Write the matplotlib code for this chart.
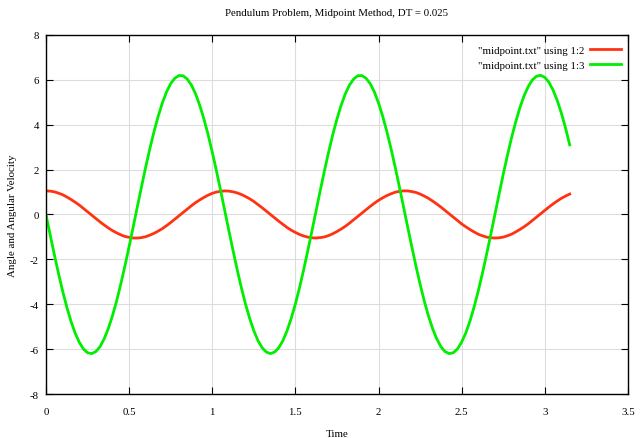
import numpy as np
import matplotlib
matplotlib.use("Agg")
import matplotlib.pyplot as plt

plt.rcParams['font.family'] = ['Liberation Serif', 'DejaVu Serif']
plt.rcParams['axes.unicode_minus'] = False

# time column, DT = 0.025
time = [round(0.025 * i, 3) for i in range(127)]

# column 2: angle
angle = [1.05, 1.04, 1.01, 0.95, 0.88, 0.78, 0.67, 0.55, 0.42, 0.27,
         0.12, -0.03, -0.18, -0.33, -0.47, -0.60, -0.72, -0.82, -0.91, -0.98,
         -1.02, -1.05, -1.05, -1.03, -0.99, -0.92, -0.84, -0.74, -0.63, -0.50,
         -0.36, -0.21, -0.06, 0.09, 0.24, 0.39, 0.53, 0.65, 0.76, 0.86,
         0.94, 1.00, 1.03, 1.05, 1.04, 1.01, 0.96, 0.89, 0.80, 0.70,
         0.58, 0.44, 0.30, 0.15, 0.00, -0.15, -0.30, -0.44, -0.58, -0.70,
         -0.80, -0.89, -0.96, -1.01, -1.04, -1.05, -1.03, -1.00, -0.94, -0.86,
         -0.76, -0.65, -0.53, -0.39, -0.24, -0.09, 0.06, 0.21, 0.36, 0.50,
         0.63, 0.74, 0.84, 0.92, 0.99, 1.03, 1.05, 1.05, 1.02, 0.98,
         0.91, 0.82, 0.72, 0.60, 0.47, 0.33, 0.18, 0.03, -0.12, -0.27,
         -0.42, -0.55, -0.67, -0.78, -0.88, -0.95, -1.01, -1.04, -1.05, -1.04,
         -1.01, -0.95, -0.88, -0.78, -0.67, -0.55, -0.42, -0.27, -0.12, 0.03,
         0.18, 0.33, 0.47, 0.60, 0.72, 0.82, 0.91]

# column 3: angular velocity
velocity = [0.00, -0.90, -1.78, -2.62, -3.41, -4.12, -4.75, -5.28, -5.69, -5.99,
            -6.16, -6.20, -6.11, -5.89, -5.54, -5.08, -4.51, -3.85, -3.10, -2.29,
            -1.43, -0.54, 0.36, 1.25, 2.12, 2.94, 3.70, 4.38, 4.97, 5.46,
            5.83, 6.07, 6.19, 6.18, 6.03, 5.76, 5.37, 4.86, 4.25, 3.56,
            2.78, 1.95, 1.08, 0.18, -0.72, -1.60, -2.46, -3.26, -3.99, -4.63,
            -5.18, -5.62, -5.94, -6.13, -6.20, -6.13, -5.94, -5.62, -5.18, -4.63,
            -3.99, -3.26, -2.46, -1.60, -0.72, 0.18, 1.08, 1.95, 2.78, 3.56,
            4.25, 4.86, 5.37, 5.76, 6.03, 6.18, 6.19, 6.07, 5.83, 5.46,
            4.97, 4.38, 3.70, 2.94, 2.12, 1.25, 0.36, -0.54, -1.43, -2.29,
            -3.10, -3.85, -4.51, -5.08, -5.54, -5.89, -6.11, -6.20, -6.16, -5.99,
            -5.69, -5.28, -4.75, -4.12, -3.41, -2.62, -1.78, -0.90, 0.00, 0.90,
            1.78, 2.62, 3.41, 4.12, 4.75, 5.28, 5.69, 5.99, 6.16, 6.20,
            6.11, 5.89, 5.54, 5.08, 4.51, 3.85, 3.10]

xticks = [0, 0.5, 1, 1.5, 2, 2.5, 3, 3.5]
xticklabels = ['0', '0.5', '1', '1.5', '2', '2.5', '3', '3.5']
yticks = [-8, -6, -4, -2, 0, 2, 4, 6, 8]

fig = plt.figure(figsize=(6.44, 4.39), dpi=100)
ax = fig.add_axes([0.0714, 0.1002, 0.9036, 0.818])

ax.plot(time, angle, color='#ff3311', lw=2.0, label='"midpoint.txt" using 1:2')
ax.plot(time, velocity, color='#00ee00', lw=2.0, label='"midpoint.txt" using 1:3')

ax.set_xlim(0, 3.5)
ax.set_ylim(-8, 8)
ax.set_xticks(xticks)
ax.set_xticklabels(xticklabels)
ax.set_yticks(yticks)
ax.tick_params(direction='in', top=True, right=True, length=5, labelsize=7.8)
ax.tick_params(axis='x', pad=9)
ax.tick_params(axis='y', pad=5)
ax.grid(True, color='#dddddd', lw=0.8)
ax.set_axisbelow(True)
for s in ax.spines.values():
    s.set_linewidth(1.0)

ax.set_title('Pendulum Problem, Midpoint Method, DT = 0.025', fontsize=7.8, pad=14)
ax.set_xlabel('Time', fontsize=7.8, labelpad=10)
ax.set_ylabel('Angle and Angular Velocity', fontsize=7.8, labelpad=9)

ax.legend(loc='upper right', bbox_to_anchor=(1.0, 0.99), frameon=False,
          markerfirst=False, fontsize=7.8, handlelength=2.9, handletextpad=0.5,
          borderaxespad=0.2, labelspacing=0.55)

fig.savefig('out.png', dpi=100)
